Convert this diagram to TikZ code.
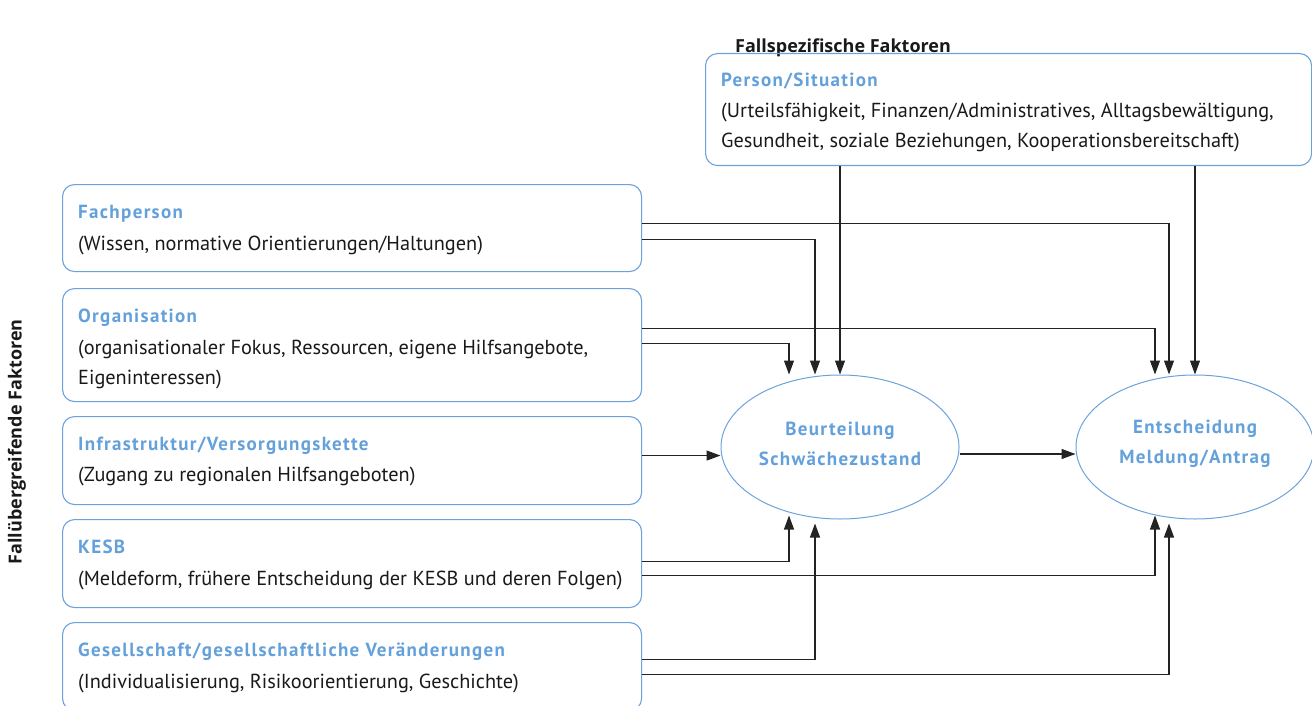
\documentclass[tikz,border=0pt]{standalone}
\usepackage{fontspec}
\setmainfont{PT Sans}
\newfontfamily\labelfont{Open Sans}
\newfontfamily\titlefont{PT Sans}[LetterSpace=7]
\usetikzlibrary{shapes.geometric,arrows.meta,calc}
\definecolor{boxblue}{RGB}{108,162,220}
\definecolor{titleblue}{RGB}{100,160,218}
\definecolor{linegray}{RGB}{35,35,35}
\definecolor{textdark}{RGB}{25,25,25}
\begin{document}
\begin{tikzpicture}[x=1pt,y=-1pt,
  box/.style={draw=boxblue, line width=1.1pt, rounded corners=12pt, inner sep=0pt, anchor=north west, minimum width=579pt},
  ttl/.style={anchor=base west, inner sep=0pt, text=titleblue, font=\titlefont\bfseries\fontsize{19}{24}\selectfont},
  dsc/.style={anchor=base west, inner sep=0pt, text=textdark, font=\fontsize{20.3}{24}\selectfont},
  oval/.style={ellipse, draw=boxblue, line width=1pt, minimum width=238pt, minimum height=144pt, inner sep=0pt},
  ovaltxt/.style={inner sep=0pt, align=center, text=titleblue, font=\titlefont\bfseries\fontsize{19}{30}\selectfont},
  side/.style={inner sep=0pt, text=textdark, font=\labelfont\bfseries\fontsize{18}{21}\selectfont},
  conn/.style={draw=linegray, line width=1.1pt, -{Triangle[length=14pt,width=10pt]}},
]
\useasboundingbox (0,0) rectangle (1312,706);

% headings
\node[side, anchor=base west] (hfs) at (735,53) {Fallspezifische Faktoren};
\node[side, rotate=90] (hfu) at (17,442) {Fallübergreifende Faktoren};

% person box
\node[box, minimum width=606pt, minimum height=112pt] (person) at (705,53) {};
\node[ttl] (personT) at (721,87) {Person/Situation};
\node[dsc] (personD1) at (721,118) {(Urteilsfähigkeit, Finanzen/Administratives, Alltagsbewältigung,};
\node[dsc] (personD2) at (721,148) {Gesundheit, soziale Beziehungen, Kooperationsbereitschaft)};

% left boxes
\node[box, minimum height=87pt] (fach) at (62,184) {};
\node[ttl] (fachT) at (78,218) {Fachperson};
\node[dsc] (fachD) at (78,250) {(Wissen, normative Orientierungen/Haltungen)};

\node[box, minimum height=113pt] (org) at (62,288) {};
\node[ttl] (orgT) at (78,322) {Organisation};
\node[dsc] (orgD1) at (78,354) {(organisationaler Fokus, Ressourcen, eigene Hilfsangebote,};
\node[dsc] (orgD2) at (78,384) {Eigeninteressen)};

\node[box, minimum height=88pt] (infra) at (62,416) {};
\node[ttl] (infraT) at (78,450) {Infrastruktur/Versorgungskette};
\node[dsc] (infraD) at (78,481) {(Zugang zu regionalen Hilfsangeboten)};

\node[box, minimum height=88pt] (kesb) at (62,519) {};
\node[ttl] (kesbT) at (78,553) {KESB};
\node[dsc] (kesbD) at (78,585) {(Meldeform, frühere Entscheidung der KESB und deren Folgen)};

\node[box, minimum height=88pt] (ges) at (62,622) {};
\node[ttl] (gesT) at (78,656) {Gesellschaft/gesellschaftliche Veränderungen};
\node[dsc] (gesD) at (78,688) {(Individualisierung, Risikoorientierung, Geschichte)};

% ellipses
\node[oval] (beur) at (840,447) {};
\node[ovaltxt] (beurT) at (840,444) {Beurteilung\\Schwächezustand};
\node[oval] (ent) at (1195,447) {};
\node[ovaltxt] (entT) at (1195,444) {Entscheidung\\Meldung/Antrag};

% connectors
\draw[conn] (person.south -| beur.north) -- (beur.north);
\draw[conn] (person.south -| ent.north) -- (ent.north);

\draw[conn] ([yshift=4.5pt]fach.east) -| ([xshift=-26pt]ent.north);
\draw[conn] ([yshift=-11.5pt]fach.east) -| ([xshift=-25pt]beur.north);

\draw[conn] ([yshift=16.5pt]org.east) -| ([xshift=-40pt]ent.north);
\draw[conn] ([yshift=1.5pt]org.east) -| ([xshift=-51pt]beur.north);

\draw[conn] ([yshift=5pt]infra.east) -- ([yshift=5pt]infra.east -| beur.west);
\draw[conn] ([yshift=-7pt]beur.east) -- ([yshift=-7pt]ent.west);

\draw[conn] ([yshift=2pt]kesb.east) -| ([xshift=-51pt,yshift=4pt]beur.south);
\draw[conn] ([yshift=-12pt]kesb.east) -| ([xshift=-40pt,yshift=4pt]ent.south);

\draw[conn] ([yshift=7pt]ges.east) -| ([xshift=-25pt,yshift=-4pt]beur.south);
\draw[conn] ([yshift=-8pt]ges.east) -| ([xshift=-26pt,yshift=-4pt]ent.south);
\end{tikzpicture}
\end{document}
